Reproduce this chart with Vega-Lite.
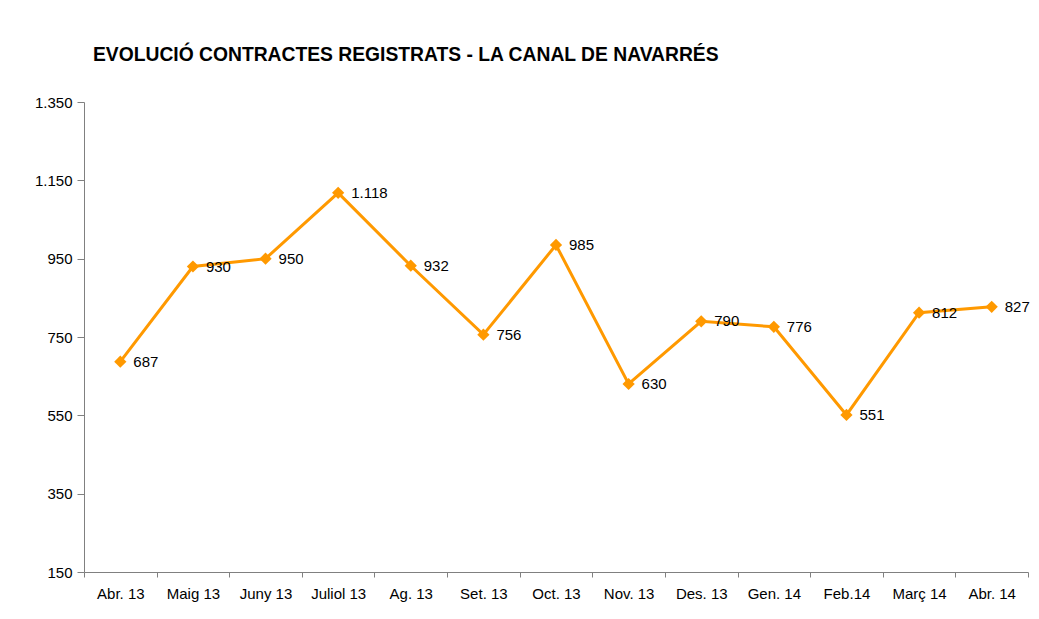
{
  "$schema": "https://vega.github.io/schema/vega-lite/v6.json",
  "width": 944,
  "height": 470,
  "autosize": {"type": "none"},
  "padding": {"left": 84, "top": 102, "right": 11, "bottom": 47},
  "background": "white",
  "config": {
    "locale": {"number": {"decimal": ",", "thousands": ".", "grouping": [3], "currency": ["", " €"]}},
    "view": {"stroke": null},
    "font": "Liberation Sans"
  },
  "title": {
    "text": "EVOLUCIÓ CONTRACTES REGISTRATS - LA CANAL DE NAVARRÉS",
    "anchor": "start",
    "frame": "group",
    "dx": 9,
    "offset": 30,
    "fontSize": 19.3,
    "fontWeight": "bold",
    "color": "black",
    "font": "Liberation Sans"
  },
  "data": {
    "values": [
      {"mes": "Abr. 13", "contractes": 687},
      {"mes": "Maig 13", "contractes": 930},
      {"mes": "Juny 13", "contractes": 950},
      {"mes": "Juliol 13", "contractes": 1118},
      {"mes": "Ag. 13", "contractes": 932},
      {"mes": "Set. 13", "contractes": 756},
      {"mes": "Oct. 13", "contractes": 985},
      {"mes": "Nov. 13", "contractes": 630},
      {"mes": "Des. 13", "contractes": 790},
      {"mes": "Gen. 14", "contractes": 776},
      {"mes": "Feb.14", "contractes": 551},
      {"mes": "Març 14", "contractes": 812},
      {"mes": "Abr. 14", "contractes": 827}
    ]
  },
  "encoding": {
    "x": {
      "field": "mes",
      "type": "ordinal",
      "sort": null,
      "bandPosition": 0.5,
      "scale": {"type": "band", "paddingInner": 0, "paddingOuter": 0},
      "axis": {
        "title": null,
        "tickBand": "extent",
        "labelAngle": 0,
        "labelFontSize": 15,
        "labelColor": "black",
        "labelPadding": 9,
        "domainColor": "#808080",
        "tickColor": "#808080",
        "tickSize": 5,
        "grid": false
      }
    },
    "y": {
      "field": "contractes",
      "type": "quantitative",
      "scale": {"domain": [150, 1350], "nice": false, "zero": false},
      "axis": {
        "title": null,
        "values": [150, 350, 550, 750, 950, 1150, 1350],
        "labelExpr": "format(datum.value, ',.0f')",
        "labelFontSize": 15,
        "labelColor": "black",
        "labelPadding": 5,
        "domainColor": "#808080",
        "tickColor": "#808080",
        "tickSize": 7,
        "grid": false
      }
    }
  },
  "layer": [
    {"mark": {"type": "line", "color": "#FF9900", "strokeWidth": 3}},
    {"mark": {"type": "point", "shape": "diamond", "filled": true, "color": "#FF9900", "size": 150, "opacity": 1}},
    {
      "mark": {"type": "text", "align": "left", "baseline": "middle", "dx": 13, "fontSize": 15, "color": "black"},
      "encoding": {"text": {"field": "contractes", "type": "quantitative", "format": ","}}
    }
  ]
}
